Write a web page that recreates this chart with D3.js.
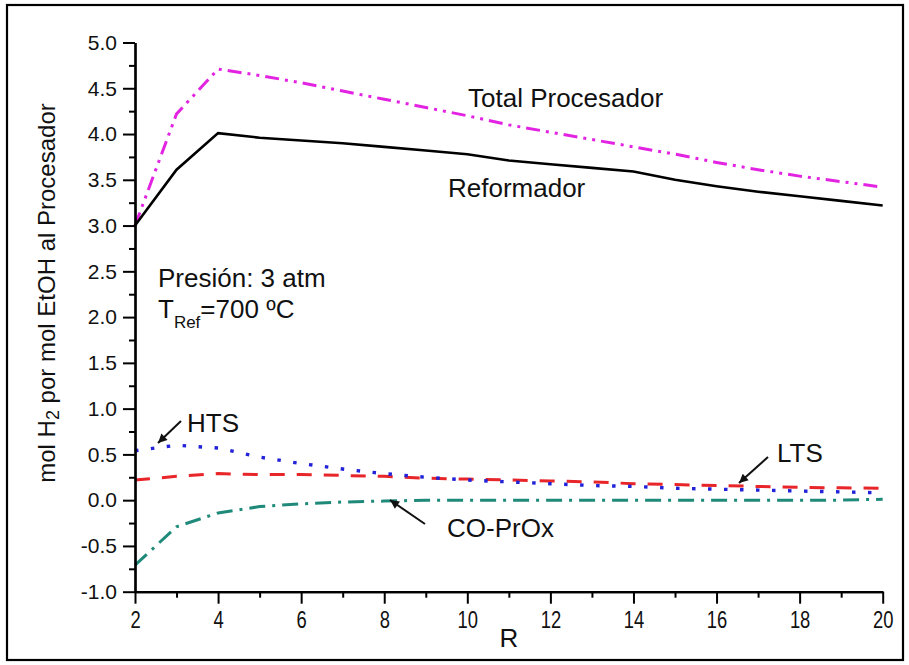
<!DOCTYPE html>
<html>
<head>
<meta charset="utf-8">
<script src="https://cdn.jsdelivr.net/npm/d3@7"></script>
<style>
  body { margin: 0; background: #fff; }
  text { font-family: "Liberation Sans", Arial, sans-serif; fill: #111; }
</style>
</head>
<body>
<svg id="chart" width="909" height="665"></svg>
<script>
// R values (x axis)
const rValues = [2, 3, 4, 5, 6, 7, 8, 9, 10, 11, 12, 13, 14, 15, 16, 17, 18, 19, 20];

// mol H2 per mol EtOH
const totalProcesador = [3.00, 4.22, 4.71, 4.64, 4.56, 4.47, 4.38, 4.29, 4.20, 4.10, 4.02, 3.94, 3.86, 3.78, 3.69, 3.61, 3.54, 3.48, 3.42];
const reformador      = [3.00, 3.61, 4.01, 3.96, 3.93, 3.90, 3.86, 3.82, 3.78, 3.71, 3.67, 3.63, 3.59, 3.50, 3.43, 3.37, 3.32, 3.27, 3.22];
const hts             = [0.54, 0.60, 0.57, 0.47, 0.40, 0.34, 0.29, 0.25, 0.22, 0.20, 0.18, 0.16, 0.15, 0.13, 0.12, 0.11, 0.10, 0.09, 0.08];
const lts             = [0.22, 0.26, 0.29, 0.28, 0.28, 0.27, 0.26, 0.24, 0.23, 0.22, 0.21, 0.20, 0.18, 0.17, 0.16, 0.15, 0.14, 0.135, 0.13];
const coPrOx          = [-0.71, -0.29, -0.14, -0.07, -0.04, -0.02, -0.01, 0.0, 0.0, 0.0, 0.0, 0.0, 0.0, 0.0, 0.0, 0.0, 0.0, 0.0, 0.01];

// tick values
const xMajorTicks = [2, 4, 6, 8, 10, 12, 14, 16, 18, 20];
const xMinorTicks = [3, 5, 7, 9, 11, 13, 15, 17, 19];
const yMajorTicks = [-1.0, -0.5, 0.0, 0.5, 1.0, 1.5, 2.0, 2.5, 3.0, 3.5, 4.0, 4.5, 5.0];
const yMinorTicks = [-0.75, -0.25, 0.25, 0.75, 1.25, 1.75, 2.25, 2.75, 3.25, 3.75, 4.25, 4.75];

const svg = d3.select('#chart');
const width = +svg.attr('width');
const height = +svg.attr('height');

const margin = { left: 135, right: width - 882.7, top: 42.5, bottom: height - 591.7 };

const x = d3.scaleLinear().domain([2, 20]).range([margin.left, width - margin.right]);
const y = d3.scaleLinear().domain([-1, 5]).range([height - margin.bottom, margin.top]);

svg.append('rect')
  .attr('width', width).attr('height', height)
  .attr('fill', '#fff');

// outer frame
svg.append('rect')
  .attr('x', 7).attr('y', 5)
  .attr('width', 896).attr('height', 655)
  .attr('fill', 'none')
  .attr('stroke', '#000')
  .attr('stroke-width', 2.2);

// series
const series = [
  { values: coPrOx, color: '#1f8a7a', dash: '16,7,3,7', width: 3 },
  { values: lts, color: '#e8262a', dash: '15,12', width: 3 },
  { values: hts, color: '#2222d8', dash: '3.5,12.5', width: 3.4 },
  { values: totalProcesador, color: '#e224e2', dash: '14,6,3,6,3,6', width: 3 },
  { values: reformador, color: '#000', dash: null, width: 2.6 }
];

const line = d3.line()
  .x(d => x(d[0]))
  .y(d => y(d[1]));

series.forEach(s => {
  svg.append('path')
    .datum(rValues.map((r, i) => [r, s.values[i]]))
    .attr('d', line)
    .attr('fill', 'none')
    .attr('stroke', s.color)
    .attr('stroke-width', s.width)
    .attr('stroke-dasharray', s.dash);
});

// axes
const xAxisY = height - margin.bottom;
const xAxis = svg.append('g')
  .attr('transform', `translate(0,${xAxisY})`)
  .call(d3.axisBottom(x).tickValues(xMajorTicks).tickSize(12).tickPadding(8).tickSizeOuter(0).tickFormat(d3.format('d')));
xAxis.selectAll('text')
  .style('font-size', '23px')
  .attr('transform', 'scale(0.8,1)');

svg.append('g')
  .attr('transform', `translate(0,${xAxisY})`)
  .call(d3.axisBottom(x).tickValues(xMinorTicks).tickSize(6).tickSizeOuter(0).tickFormat(''));

const yAxis = svg.append('g')
  .attr('transform', `translate(${margin.left},0)`)
  .call(d3.axisLeft(y).tickValues(yMajorTicks).tickSize(12).tickPadding(6).tickSizeOuter(0).tickFormat(d => d.toFixed(1)));
yAxis.selectAll('text').style('font-size', '21px');

svg.append('g')
  .attr('transform', `translate(${margin.left},0)`)
  .call(d3.axisLeft(y).tickValues(yMinorTicks).tickSize(6).tickSizeOuter(0).tickFormat(''));

svg.selectAll('.domain').attr('stroke', '#000').attr('stroke-width', 2.2);
svg.selectAll('.tick line').attr('stroke', '#000').attr('stroke-width', 2);
svg.selectAll('.tick text').attr('fill', '#111').style('font-family', '"Liberation Sans", Arial, sans-serif');

// axis titles
svg.append('text')
  .attr('x', (x.range()[0] + x.range()[1]) / 2)
  .attr('y', 647)
  .attr('text-anchor', 'middle')
  .style('font-size', '26px')
  .text('R');

const yTitle = svg.append('text')
  .attr('transform', `translate(55,293) rotate(-90)`)
  .attr('text-anchor', 'middle')
  .style('font-size', '24px');
yTitle.append('tspan').text('mol H');
yTitle.append('tspan').attr('dy', 4).style('font-size', '18px').text('2');
yTitle.append('tspan').attr('dy', -4).text(' por mol EtOH al Procesador');

// annotations
const note = (tx, ty, str) => svg.append('text')
  .attr('x', tx).attr('y', ty)
  .style('font-size', '26px')
  .text(str);

note(468, 107, 'Total Procesador');
note(448, 197, 'Reformador');
note(158, 287, 'Presión: 3 atm');

const tRef = svg.append('text').attr('x', 158).attr('y', 318).style('font-size', '26px');
tRef.append('tspan').text('T');
tRef.append('tspan').attr('dy', 10).style('font-size', '17px').text('Ref');
tRef.append('tspan').attr('dy', -10).text('=700 ºC');

note(187, 432, 'HTS');
note(777, 462, 'LTS');
note(447, 537, 'CO-PrOx');

// arrows
svg.append('defs').append('marker')
  .attr('id', 'head')
  .attr('viewBox', '0 0 10 10')
  .attr('refX', 10).attr('refY', 5)
  .attr('markerWidth', 13).attr('markerHeight', 9)
  .attr('markerUnits', 'userSpaceOnUse')
  .attr('orient', 'auto')
  .append('path')
  .attr('d', 'M0,0 L10,5 L0,10 Z')
  .attr('fill', '#111');

const arrows = [
  [181, 421, 158, 443],
  [768, 457, 739, 483],
  [425, 524, 390, 500]
];
arrows.forEach(a => {
  svg.append('line')
    .attr('x1', a[0]).attr('y1', a[1])
    .attr('x2', a[2]).attr('y2', a[3])
    .attr('stroke', '#111')
    .attr('stroke-width', 2)
    .attr('marker-end', 'url(#head)');
});
</script>
</body>
</html>
